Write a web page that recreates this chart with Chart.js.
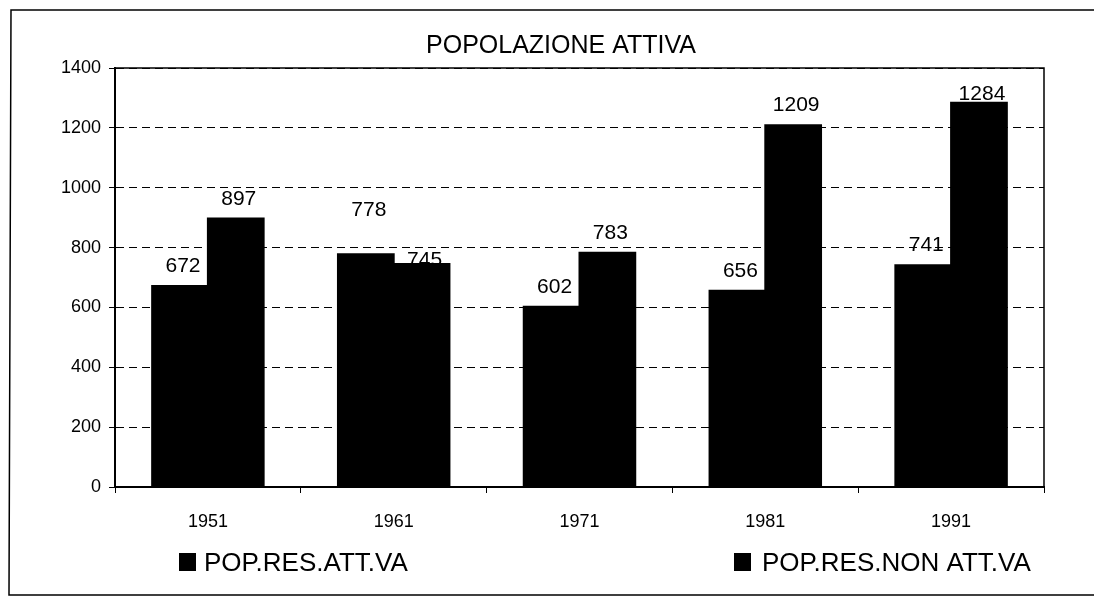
<!DOCTYPE html>
<html>
<head>
<meta charset="utf-8">
<script src="https://cdn.jsdelivr.net/npm/chart.js@4/dist/chart.umd.min.js"></script>
<style>
  html, body { margin: 0; padding: 0; background: #fff; }
  #wrap { position: relative; width: 1094px; height: 599px; }
</style>
</head>
<body>
<div id="wrap"><canvas id="chart" width="1094" height="599"></canvas></div>
<script>
// data
var years = ['1951', '1961', '1971', '1981', '1991'];
var attiva = [672, 778, 602, 656, 741];
var nonAttiva = [897, 745, 783, 1209, 1284];
var seriesNames = ['POP.RES.ATT.VA', 'POP.RES.NON ATT.VA'];
var chartTitle = 'POPOLAZIONE ATTIVA';

var FONT = '"Liberation Sans", Arial, sans-serif';

// label nudges (px above bar top) where the original deviates
var labelLift = { '0-1': 38, '1-1': -2, '1-4': 3 };

var decorPlugin = {
  id: 'decor',
  beforeDraw: function(chart) {
    var ctx = chart.ctx;
    ctx.save();
    ctx.fillStyle = '#fff';
    ctx.fillRect(0, 0, chart.width, chart.height);
    // outer frame (top, left, bottom)
    ctx.strokeStyle = '#000';
    ctx.lineWidth = 1.5;
    ctx.beginPath();
    ctx.moveTo(1094, 10);
    ctx.lineTo(11, 10);
    ctx.lineTo(9, 595);
    ctx.lineTo(1094, 595);
    ctx.stroke();
    // title
    ctx.fillStyle = '#000';
    ctx.font = '25px ' + FONT;
    ctx.textAlign = 'center';
    ctx.textBaseline = 'alphabetic';
    ctx.fillText(chartTitle, 561, 53);
    ctx.restore();
  },
  afterDatasetsDraw: function(chart) {
    var ctx = chart.ctx;
    var a = chart.chartArea;
    ctx.save();
    // plot box top and right
    ctx.strokeStyle = '#000';
    ctx.lineWidth = 1.5;
    ctx.beginPath();
    ctx.moveTo(a.left, a.top);
    ctx.lineTo(a.right, a.top);
    ctx.lineTo(a.right, a.bottom);
    ctx.stroke();
    // value labels
    ctx.fillStyle = '#000';
    ctx.font = '21px ' + FONT;
    ctx.textAlign = 'center';
    ctx.textBaseline = 'alphabetic';
    chart.data.datasets.forEach(function(ds, di) {
      chart.getDatasetMeta(di).data.forEach(function(bar, i) {
        var key = di + '-' + i;
        var lift = labelLift.hasOwnProperty(key) ? labelLift[key] : 14;
        ctx.fillText(String(ds.data[i]), bar.x + 3, bar.y - lift);
      });
    });
    // legend
    ctx.font = '26px ' + FONT;
    ctx.textAlign = 'left';
    var legendPos = [[179, 204], [734, 762]];
    seriesNames.forEach(function(name, i) {
      ctx.fillRect(legendPos[i][0], 553, 17, 18);
      ctx.fillText(name, legendPos[i][1], 571);
    });
    ctx.restore();
  }
};

new Chart(document.getElementById('chart'), {
  type: 'bar',
  data: {
    labels: years,
    datasets: [
      { label: seriesNames[0], data: attiva, backgroundColor: '#000', borderWidth: 0, inflateAmount: 1 },
      { label: seriesNames[1], data: nonAttiva, backgroundColor: '#000', borderWidth: 0, inflateAmount: 1 }
    ]
  },
  options: {
    responsive: false,
    animation: false,
    events: [],
    layout: { padding: { left: 0, top: 68, right: 50, bottom: 0 } },
    datasets: { bar: { categoryPercentage: 0.6, barPercentage: 1.0 } },
    plugins: {
      legend: { display: false },
      title: { display: false },
      tooltip: { enabled: false }
    },
    scales: {
      x: {
        afterFit: function(s) { s.height = 112; },
        grid: { drawOnChartArea: false, drawTicks: true, tickLength: 6, tickColor: '#000', offset: true },
        border: { display: true, color: '#000', width: 2 },
        ticks: { color: '#000', font: { family: FONT, size: 18 }, padding: 18, maxRotation: 0 }
      },
      y: {
        min: 0,
        max: 1400,
        afterFit: function(s) { s.width = 115; },
        grid: { color: '#000', lineWidth: 1, tickLength: 6, tickColor: '#000' },
        border: { display: true, color: '#000', width: 2, dash: [8, 5] },
        ticks: {
          stepSize: 200, color: '#000', font: { family: FONT, size: 18 }, padding: 8,
          callback: function(v) { return String(v); }
        }
      }
    }
  },
  plugins: [decorPlugin]
});
</script>
</body>
</html>
